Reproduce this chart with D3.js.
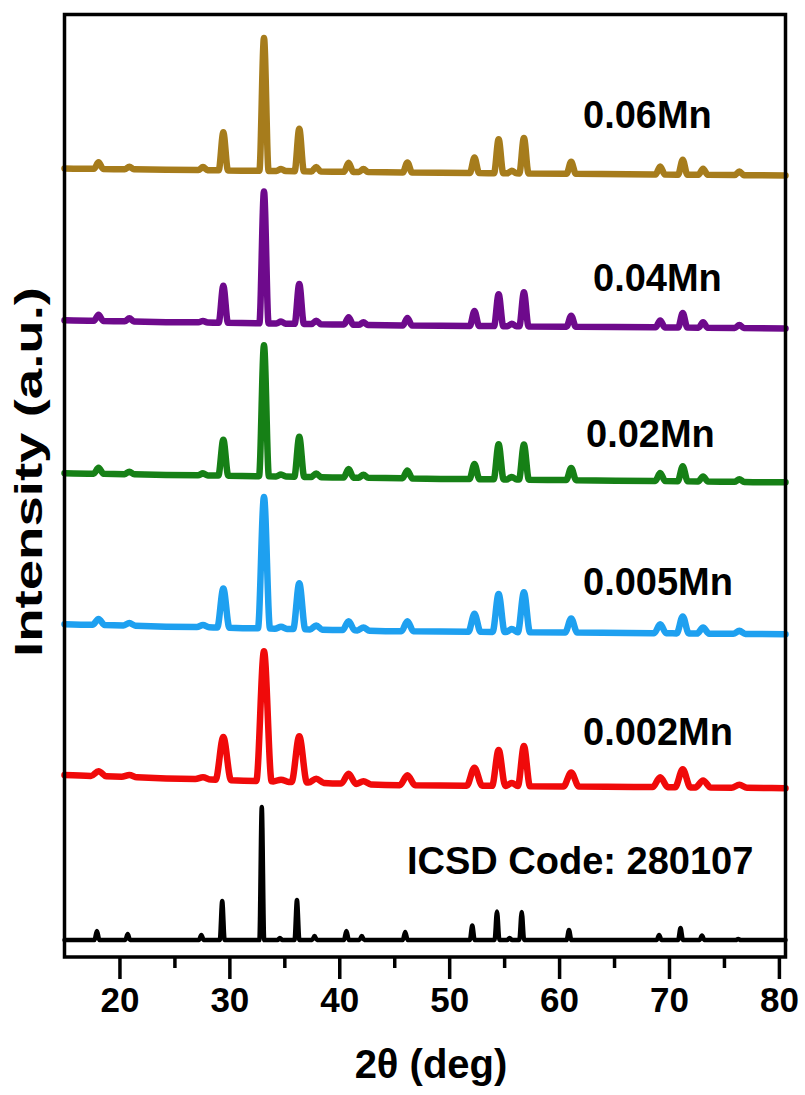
<!DOCTYPE html>
<html>
<head>
<meta charset="utf-8">
<script src="https://cdn.jsdelivr.net/npm/d3@7"></script>
<style>
  html, body { margin: 0; padding: 0; background: #fff; }
  svg { display: block; }
  text { font-family: "Liberation Sans", Arial, sans-serif; font-weight: bold; fill: #000; }
</style>
</head>
<body>
<svg id="chart" width="805" height="1095"></svg>
<script>
// ---- data -------------------------------------------------------------
// Reflection positions (2θ, deg) of the samples and of the ICSD reference
const peaks2theta = [18.1, 20.9, 27.6, 29.45, 33.15, 34.7, 36.36, 37.9, 40.85, 42.2,
                     46.2, 52.3, 54.5, 55.7, 56.8, 61.1, 69.2, 71.25, 73.1, 76.4];
const peaksICSD   = [17.95, 20.75, 27.45, 29.35, 32.95, 34.6, 36.15, 37.75, 40.65, 42.05,
                     46.0, 52.1, 54.35, 55.5, 56.6, 60.9, 69.1, 71.05, 73.0, 76.3];

// Peak heights above background (a.u.), one entry per reflection
const heights006  = [6.5, 2.5, 3, 38, 133, 2, 42.5, 4.5, 9, 3, 10, 15.5, 34, 2.5, 35.5, 12, 8, 15, 6, 3.5];
const heights004  = [6, 3, 1.5, 37, 132, 2, 40, 3.5, 7.5, 2.5, 7.5, 15, 32, 2.5, 34, 11, 7, 14.5, 5.5, 3];
const heights002  = [6, 2.5, 2, 36, 131, 2, 40, 3.5, 8.5, 3, 8, 15, 35, 2.5, 35, 12, 8, 15, 5, 2.5];
const heights0005 = [6, 2.5, 2, 39, 131.5, 2, 46, 4, 9, 3, 10, 18, 38, 3, 40, 14, 9, 17, 6, 3];
const heights0002 = [5, 2, 2, 43, 130, 2, 46, 4, 10, 3, 10, 18, 36, 3, 40, 14, 10, 18, 7, 3];
const heightsICSD = [9, 6, 5, 39, 133, 2, 40, 4, 9, 4, 8, 14.5, 28.5, 2, 28, 10, 5, 12, 4.5, 1];

// Background level (a.u.) at 2θ = 15, 45 and 80 deg for each pattern
const bgAngles     = [15, 45, 80];
const background006  = [789, 785, 782];
const background004  = [637, 632, 629];
const background002  = [484, 479, 475];
const background0005 = [333, 326, 323];
const background0002 = [182, 172, 169];
const backgroundICSD = [17, 17, 17];

// Half width of the peak feet (deg 2θ)
const halfWidths = [0.42, 0.42, 0.45, 0.55, 0.7, 0.22];

const seriesNames = ["0.06Mn", "0.04Mn", "0.02Mn", "0.005Mn", "0.002Mn", "ICSD Code: 280107"];

const xTickValues = [20, 30, 40, 50, 60, 70, 80];
const xMinorTicks = [25, 35, 45, 55, 65, 75];

// ---- layout ------------------------------------------------------------
const colors = ["#A67C1C", "#6E0A8C", "#168016", "#1EA0F0", "#F00A0A", "#000000"];
const labelPos = [[583, 128], [593, 291], [586, 447], [583, 595], [583, 745], [407, 874]];
const frame = { left: 64.5, right: 785.5, top: 14.5, bottom: 957 };

const series = [
  { pos: peaks2theta, h: heights006,  bg: background006 },
  { pos: peaks2theta, h: heights004,  bg: background004 },
  { pos: peaks2theta, h: heights002,  bg: background002 },
  { pos: peaks2theta, h: heights0005, bg: background0005 },
  { pos: peaks2theta, h: heights0002, bg: background0002 },
  { pos: peaksICSD,   h: heightsICSD, bg: backgroundICSD }
];

const svg = d3.select("#chart");

const x = d3.scaleLinear().domain([15, 80.6]).range([frame.left, frame.right]);
const y = d3.scaleLinear().domain([0, 943]).range([frame.bottom, frame.top]);

// Builds the vertex list of a pattern: background with a bump at every reflection
function profile(s, hw) {
  const bgAt = d3.scaleLinear().domain(bgAngles).range(s.bg);
  const pts = [[15, bgAt(15)], [80.6, bgAt(80.6)]];
  s.pos.forEach((p, i) => {
    const prev = i > 0 ? s.pos[i - 1] : 15;
    const next = i < s.pos.length - 1 ? s.pos[i + 1] : 80.6;
    const w = Math.min(hw, (p - prev) / 2, (next - p) / 2);
    pts.push([p - w, bgAt(p - w)]);
    pts.push([p, bgAt(p) + s.h[i]]);
    pts.push([p + w, bgAt(p + w)]);
  });
  pts.sort((a, b) => a[0] - b[0]);
  return pts;
}

const line = d3.line()
  .x(d => x(d[0]))
  .y(d => y(d[1]))
  .curve(d3.curveMonotoneX);

const plot = svg.append("g");
series.forEach((s, i) => {
  plot.append("path")
    .attr("d", line(profile(s, halfWidths[i])))
    .attr("fill", "none")
    .attr("stroke", colors[i])
    .attr("stroke-width", i === 5 ? 4.5 : 6.5)
    .attr("stroke-linejoin", "round")
    .attr("stroke-linecap", "round");
});

// pattern labels
seriesNames.forEach((name, i) => {
  svg.append("text")
    .attr("x", labelPos[i][0])
    .attr("y", labelPos[i][1])
    .attr("font-size", 38)
    .text(name);
});

// frame
svg.append("rect")
  .attr("x", frame.left).attr("y", frame.top)
  .attr("width", frame.right - frame.left)
  .attr("height", frame.bottom - frame.top)
  .attr("fill", "none")
  .attr("stroke", "#000")
  .attr("stroke-width", 3.5);

// x axis: major ticks with labels, minor ticks without
const xAxis = d3.axisBottom(x)
  .tickValues(xTickValues)
  .tickSize(22)
  .tickPadding(8)
  .tickFormat(d3.format("d"));
const gx = svg.append("g")
  .attr("transform", `translate(0,${frame.bottom})`)
  .call(xAxis);
gx.select(".domain").remove();
gx.selectAll(".tick line").attr("stroke", "#000").attr("stroke-width", 3.5);
gx.selectAll(".tick text")
  .attr("font-size", 35)
  .attr("font-family", "Liberation Sans, Arial, sans-serif")
  .attr("font-weight", "bold")
  .attr("fill", "#000");

const gxMinor = svg.append("g")
  .attr("transform", `translate(0,${frame.bottom})`)
  .call(d3.axisBottom(x).tickValues(xMinorTicks).tickSize(11).tickFormat(""));
gxMinor.select(".domain").remove();
gxMinor.selectAll(".tick line").attr("stroke", "#000").attr("stroke-width", 3.5);

// axis titles
svg.append("text")
  .attr("x", 431)
  .attr("y", 1078)
  .attr("text-anchor", "middle")
  .attr("font-size", 40)
  .text("2θ (deg)");

svg.append("text")
  .attr("transform", "translate(42,472) rotate(-90) scale(1.4,1)")
  .attr("text-anchor", "middle")
  .attr("font-size", 39)
  .text("Intensity (a.u.)");
</script>
</body>
</html>
